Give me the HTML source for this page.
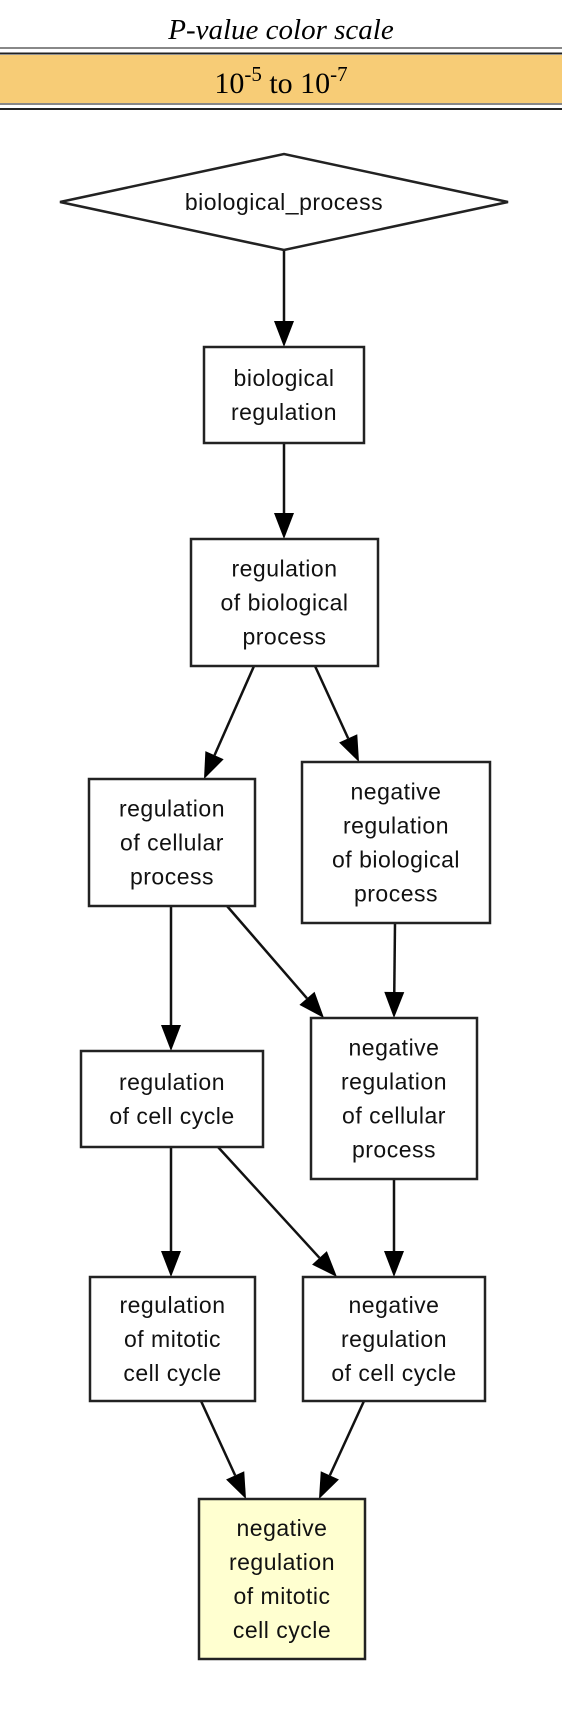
<!DOCTYPE html>
<html><head><meta charset="utf-8"><style>
html,body{margin:0;padding:0;background:#fff;width:562px;height:1710px;overflow:hidden}
svg{display:block}
</style></head><body>
<svg width="562" height="1710" viewBox="0 0 562 1710">
<text x="281" y="39" text-anchor="middle" font-family="Liberation Serif, serif" font-style="italic" font-size="29" fill="#000">P-value color scale</text>
<line x1="0" y1="48" x2="562" y2="48" stroke="#888" stroke-width="2"/>
<line x1="0" y1="53.5" x2="562" y2="53.5" stroke="#222" stroke-width="2"/>
<rect x="0" y="55" width="562" height="48" fill="#f7cc76"/>
<line x1="0" y1="104" x2="562" y2="104" stroke="#888" stroke-width="2"/>
<line x1="0" y1="109" x2="562" y2="109" stroke="#222" stroke-width="2"/>
<text x="281" y="93" text-anchor="middle" font-family="Liberation Serif, serif" font-size="30" fill="#000">10<tspan dy="-12" font-size="21">-5</tspan><tspan dy="12"> to 10</tspan><tspan dy="-12" font-size="21">-7</tspan></text>
<g id="edges"></g>
<g id="nodes"></g>
</svg>
<script>
const nodeLabels = [
 ["biological_process"],
 ["biological","regulation"],
 ["regulation","of biological","process"],
 ["regulation","of cellular","process"],
 ["negative","regulation","of biological","process"],
 ["regulation","of cell cycle"],
 ["negative","regulation","of cellular","process"],
 ["regulation","of mitotic","cell cycle"],
 ["negative","regulation","of cell cycle"],
 ["negative","regulation","of mitotic","cell cycle"]
];
const nodeNames = ["biological-process","biological-regulation","regulation-of-biological-process","regulation-of-cellular-process","negative-regulation-of-biological-process","regulation-of-cell-cycle","negative-regulation-of-cellular-process","regulation-of-mitotic-cell-cycle","negative-regulation-of-cell-cycle","negative-regulation-of-mitotic-cell-cycle"];
const boxes = [[60,154,508,250],[204,347,364,443],[191,539,378,666],[89,779,255,906],[302,762,490,923],[81,1051,263,1147],[311,1018,477,1179],[90,1277,255,1401],[303,1277,485,1401],[199,1499,365,1659]];
const edgeList = [[0,1,284,250,284,347],[1,2,284,443,284,539],[2,3,254,666,204,779],[2,4,315,666,359,762],[3,5,171,906,171,1051],[3,6,227,906,324,1018],[4,6,395,923,394,1018],[5,7,171,1147,171,1277],[5,8,218,1147,337,1277],[6,8,394,1179,394,1277],[7,9,201,1401,246,1499],[8,9,364,1401,319,1499]];
const NS="http://www.w3.org/2000/svg";
const eg=document.getElementById('edges'), ng=document.getElementById('nodes');
edgeList.forEach(e=>{
 const [a,b,x1,y1,x2,y2]=e;
 const dx=x2-x1, dy=y2-y1, L=Math.hypot(dx,dy), ux=dx/L, uy=dy/L, AL=26, AW=10;
 const bx=x2-ux*AL, by=y2-uy*AL;
 const ln=document.createElementNS(NS,'line');
 
 
 ln.setAttribute('x1',x1);ln.setAttribute('y1',y1);ln.setAttribute('x2',bx);ln.setAttribute('y2',by);
 ln.setAttribute('stroke','#111');ln.setAttribute('stroke-width','2.5');
 eg.appendChild(ln);
 const p=document.createElementNS(NS,'polygon');
 
 
 p.setAttribute('points',`${x2},${y2} ${bx-uy*AW},${by+ux*AW} ${bx+uy*AW},${by-ux*AW}`);
 p.setAttribute('fill','#000');
 eg.appendChild(p);
});
boxes.forEach((bb,i)=>{
 const [x1,y1,x2,y2]=bb;
 const g=document.createElementNS(NS,'g');
 
 
 let s;
 if(i===0){
  s=document.createElementNS(NS,'polygon');
  const cx=(x1+x2)/2, cy=(y1+y2)/2;
  s.setAttribute('points',`${x1},${cy} ${cx},${y1} ${x2},${cy} ${cx},${y2}`);
 } else {
  s=document.createElementNS(NS,'rect');
  s.setAttribute('x',x1);s.setAttribute('y',y1);s.setAttribute('width',x2-x1);s.setAttribute('height',y2-y1);
 }
 s.setAttribute('fill',i===9?'#ffffd0':'#fff');
 s.setAttribute('stroke','#222');s.setAttribute('stroke-width','2.5');
 g.appendChild(s);
 const lines=nodeLabels[i], lh=34, cx=(x1+x2)/2, cy=(y1+y2)/2;
 lines.forEach((t,k)=>{
  const tx=document.createElementNS(NS,'text');
  
  
  tx.setAttribute('x',cx);
  tx.setAttribute('y',cy+(k-(lines.length-1)/2)*lh+8);
  tx.setAttribute('text-anchor','middle');
  tx.setAttribute('font-family','Liberation Sans, sans-serif');
  tx.setAttribute('font-size','23');
  tx.setAttribute('letter-spacing','0.5');
  tx.setAttribute('fill','#111');
  tx.textContent=t;
  g.appendChild(tx);
 });
 ng.appendChild(g);
});
</script>
</body></html>
